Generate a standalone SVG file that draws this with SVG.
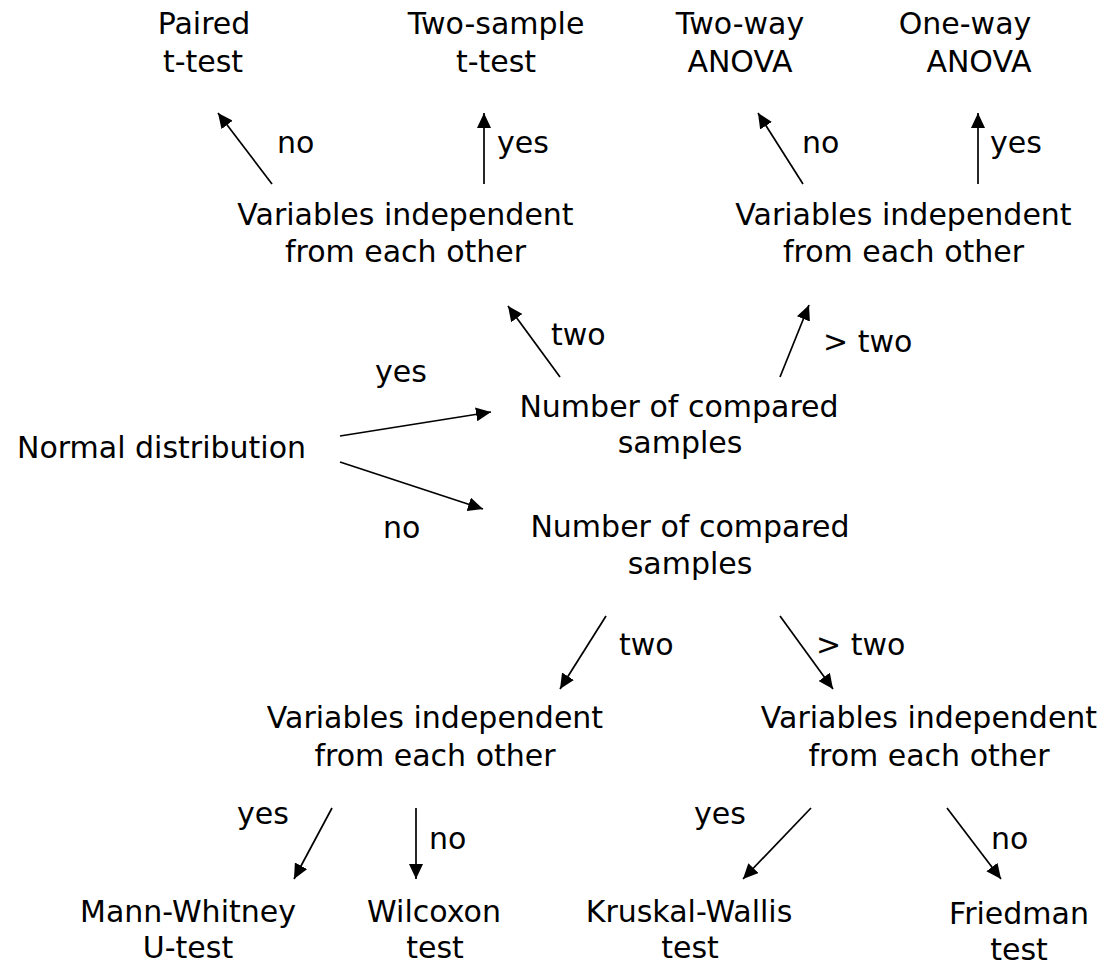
<svg xmlns="http://www.w3.org/2000/svg" width="1108" height="965" viewBox="0 0 1108 965">
<defs>
<style>
text{font-family:"DejaVu Sans","Liberation Sans",sans-serif;font-size:30px;fill:#000}
.n text{text-anchor:middle}
.c line{stroke:#000;stroke-width:1.7;marker-end:url(#ah)}
</style>
<marker id="ah" markerUnits="userSpaceOnUse" markerWidth="16" markerHeight="14" refX="15" refY="7" orient="auto" viewBox="0 0 16 14">
<path d="M0,0 L15,7 L0,14 z" fill="#000"/>
</marker>
</defs>
<rect width="1108" height="965" fill="#fff"/>
<g class="n">
<g id="paired"><text x="204" y="34">Paired</text><text x="203" y="72">t-test</text></g>
<g id="twosample"><text x="496" y="34">Two-sample</text><text x="496" y="72">t-test</text></g>
<g id="twoway"><text x="740" y="34">Two-way</text><text x="740" y="72">ANOVA</text></g>
<g id="oneway"><text x="965" y="34">One-way</text><text x="979" y="72">ANOVA</text></g>
<g id="indep1"><text x="405.5" y="225">Variables independent</text><text x="405.5" y="262">from each other</text></g>
<g id="indep2"><text x="903.5" y="225">Variables independent</text><text x="903.5" y="262">from each other</text></g>
<g id="normal"><text x="161.5" y="458">Normal distribution</text></g>
<g id="number1"><text x="679" y="417">Number of compared</text><text x="680" y="453">samples</text></g>
<g id="number2"><text x="690" y="537">Number of compared</text><text x="690" y="574">samples</text></g>
<g id="indep3"><text x="435" y="728">Variables independent</text><text x="435" y="766">from each other</text></g>
<g id="indep4"><text x="929" y="728">Variables independent</text><text x="929" y="766">from each other</text></g>
<g id="mann"><text x="188" y="922">Mann-Whitney</text><text x="188" y="958">U-test</text></g>
<g id="wilcoxon"><text x="434" y="922">Wilcoxon</text><text x="435" y="958">test</text></g>
<g id="kruskal"><text x="689" y="922">Kruskal-Wallis</text><text x="690" y="958">test</text></g>
<g id="friedman"><text x="1019" y="924">Friedman</text><text x="1019" y="960">test</text></g>
</g>
<g id="connectors" class="c">
<line x1="272" y1="184" x2="218" y2="113"/>
<line x1="484" y1="184" x2="484" y2="113"/>
<line x1="803" y1="184" x2="758" y2="113"/>
<line x1="978" y1="184" x2="978" y2="113"/>
<line x1="560" y1="377" x2="508" y2="306"/>
<line x1="780" y1="377" x2="809" y2="305"/>
<line x1="340" y1="436" x2="491" y2="412"/>
<line x1="340" y1="462" x2="483" y2="509"/>
<line x1="606" y1="616" x2="560" y2="689"/>
<line x1="780" y1="616" x2="833" y2="689"/>
<line x1="332" y1="808" x2="294" y2="879"/>
<line x1="416" y1="808" x2="416" y2="879"/>
<line x1="811" y1="808" x2="743" y2="879"/>
<line x1="947" y1="808" x2="1001" y2="879"/>
</g>
<g id="labels">
<text x="277" y="153">no</text>
<text x="497" y="153">yes</text>
<text x="802" y="153">no</text>
<text x="990" y="153">yes</text>
<text x="551" y="345">two</text>
<text x="823" y="352">&gt; two</text>
<text x="375" y="382">yes</text>
<text x="383" y="538">no</text>
<text x="619" y="655">two</text>
<text x="816" y="655">&gt; two</text>
<text x="237" y="824">yes</text>
<text x="429" y="849">no</text>
<text x="694" y="824">yes</text>
<text x="991" y="849">no</text>
</g>
</svg>
